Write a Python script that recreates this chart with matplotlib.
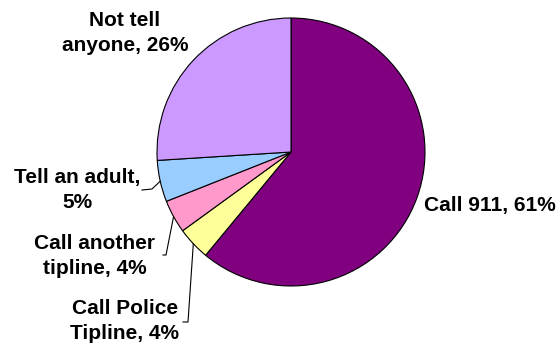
import numpy as np
import matplotlib
matplotlib.use('Agg')
import matplotlib.pyplot as plt

labels = ['Call 911', 'Call Police\nTipline', 'Call another\ntipline', 'Tell an adult', 'Not tell\nanyone']
values = [61, 4, 4, 5, 26]
colors = ['#800080', '#FFFF99', '#FF99CC', '#99CCFF', '#CC99FF']
seps = [', ', ', ', ', ', ',\n', ', ']

W, H = 559, 345
CX, CY, R = 291, H - 152, 134

fig = plt.figure(figsize=(W / 100, H / 100), dpi=100)
ax = fig.add_axes([0, 0, 1, 1])

wedges, _ = ax.pie(values, colors=colors, startangle=90, counterclock=False,
                   center=(CX, CY), radius=R, frame=True,
                   wedgeprops=dict(edgecolor='black', linewidth=0.8))
ax.set_xlim(0, W)
ax.set_ylim(0, H)
ax.axis('off')

font = dict(family='Liberation Sans', fontweight='bold', fontsize=15, color='black')

# text anchor (pixel coords, y down), alignment
pos = [(424, 205, 'left'), (125, 321, 'center'), (95, 256, 'center'),
       (77, 190, 'center'), (125, 33, 'center')]
# leader start points for small slices (pixel coords)
leader = {1: [(183, 322), (188, 322)], 2: [(163, 255), (166, 255)],
          3: [(142, 190), (152, 189)]}

cum = np.cumsum([0] + values)
for i, (lab, v, sep, (px, py, ha)) in enumerate(zip(labels, values, seps, pos)):
    ax.text(px, H - py, f'{lab}{sep}{v}%', ha=ha, va='center',
            linespacing=1.4, **font)
    if i in leader:
        mid = (cum[i] + cum[i + 1]) / 2 / sum(values) * 2 * np.pi
        ex = CX + R * np.sin(mid)
        ey = CY + R * np.cos(mid)
        xs = [p[0] for p in leader[i]] + [ex]
        ys = [H - p[1] for p in leader[i]] + [ey]
        ax.plot(xs, ys, color='black', linewidth=0.8)

fig.savefig('out.png', dpi=100, facecolor='white')
